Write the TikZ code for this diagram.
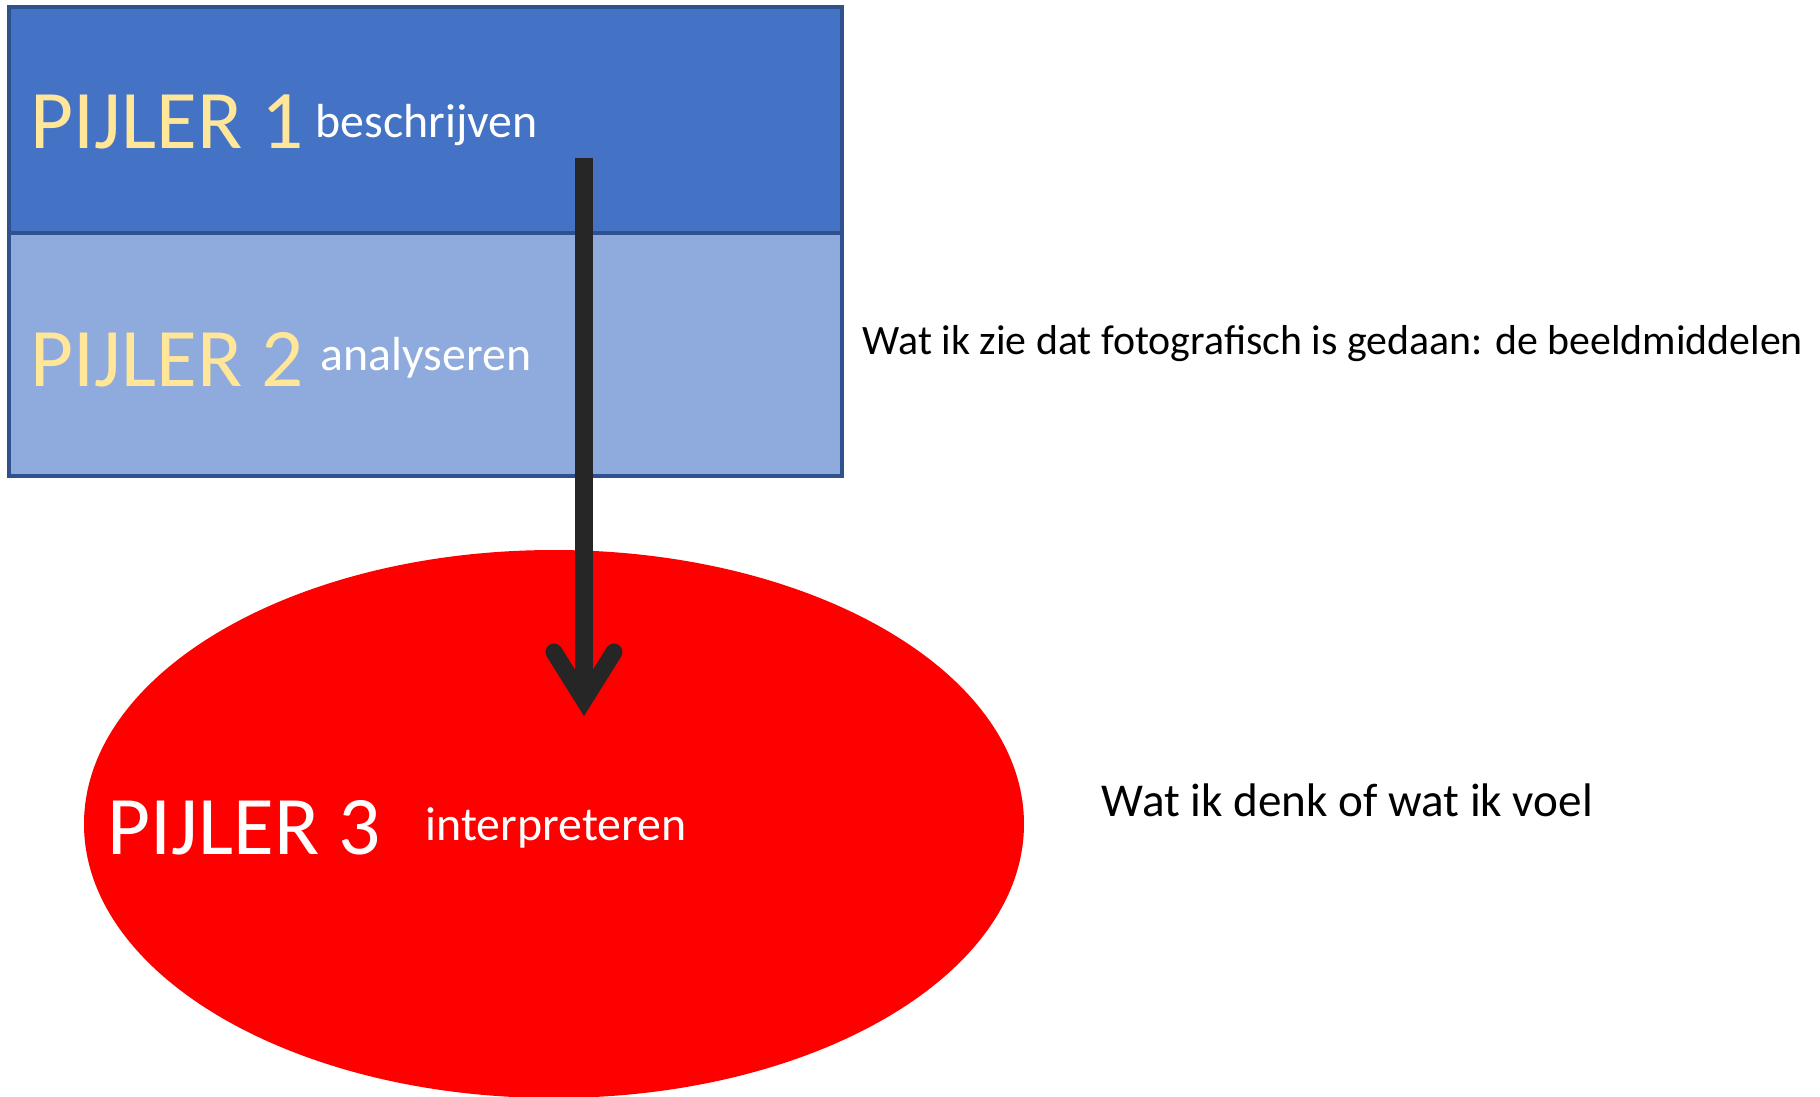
\documentclass[tikz,border=0pt]{standalone}
\usepackage{fontspec}
\setmainfont{Carlito}
\definecolor{pblue}{HTML}{4472C4}
\definecolor{plight}{HTML}{8FAADC}
\definecolor{pborder}{HTML}{2F528F}
\definecolor{pyellow}{HTML}{FFE699}
\definecolor{pdark}{HTML}{262626}
\begin{document}
\begin{tikzpicture}[x=0.01cm,y=-0.01cm,
  box/.style={draw=pborder,line width=1pt},
  big/.style={font=\fontsize{23.7}{28}\selectfont,anchor=base west,inner sep=0pt},
  small/.style={font=\fontsize{13.6}{16}\selectfont,anchor=base west,inner sep=0pt,text=white},
  side/.style={font=\fontsize{11.9}{14}\selectfont,anchor=base west,inner sep=0pt,text=black},
  arrowline/.style={draw=pdark,line width=0.17cm}
]
\useasboundingbox (0,0) rectangle (1820,1096);
\fill[white] (0,0) rectangle (1820,1096);
% boxes
\path[box,fill=pblue] (9,7) rectangle (842,233);
\path[box,fill=plight] (9,233) rectangle (842,476);
% ellipse
\fill[red] (554,824) ellipse [x radius=470, y radius=274];
% texts
\node[big,text=pyellow] (p1) at (30,148) {PIJLER 1};
\node[small] (b1) at (315,137) {beschrijven};
\node[big,text=pyellow] (p2) at (30,386) {PIJLER 2};
\node[small] (b2) at (320,370) {analyseren};
\node[big,text=white] (p3) at (107,854) {PIJLER 3};
\node[small] (b3) at (425,840) {interpreteren};
\node[side] (t1) at (862,354) {Wat ik zie dat fotografisch is gedaan: de beeldmiddelen};
\node[side,font=\fontsize{13.4}{16}\selectfont] (t2) at (1101,816) {Wat ik denk of wat ik voel};
% arrow
\coordinate (as) at (584,158);
\coordinate (at) at (584,700);
\coordinate (al) at (554,652);
\coordinate (ar) at (614,652);
\draw[arrowline] (as) -- (at);
\draw[arrowline,line cap=round,line join=miter] (al) -- (at) -- (ar);
\end{tikzpicture}
\end{document}
